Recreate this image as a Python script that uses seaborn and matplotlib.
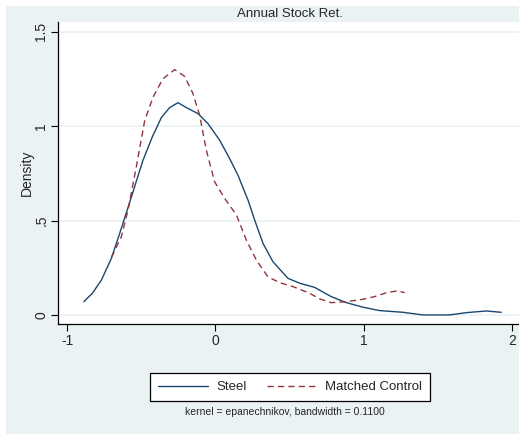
import matplotlib
matplotlib.use("Agg")
import matplotlib.pyplot as plt
import seaborn as sns
import pandas as pd
from matplotlib.patches import Rectangle
from matplotlib.lines import Line2D

# ---- data ----
steel_x = [-0.887, -0.829, -0.768, -0.701, -0.645, -0.566, -0.488, -0.425, -0.364, -0.308,
           -0.252, -0.196, -0.117, -0.050, 0.029, 0.096, 0.152, 0.220, 0.265, 0.321,
           0.388, 0.489, 0.568, 0.669, 0.781, 0.883, 0.995, 1.107, 1.264, 1.399,
           1.579, 1.691, 1.826, 1.927]
steel_y = [0.070, 0.115, 0.185, 0.300, 0.432, 0.625, 0.819, 0.943, 1.045, 1.098,
           1.124, 1.098, 1.066, 1.013, 0.925, 0.828, 0.740, 0.608, 0.502, 0.379,
           0.282, 0.194, 0.168, 0.146, 0.097, 0.065, 0.041, 0.023, 0.014, 0.000,
           0.000, 0.012, 0.021, 0.014]

ctrl_x = [-0.701, -0.634, -0.589, -0.533, -0.476, -0.420, -0.353, -0.274, -0.207, -0.151,
          -0.106, -0.061, -0.005, 0.063, 0.142, 0.209, 0.276, 0.354, 0.433, 0.523,
          0.635, 0.703, 0.781, 0.883, 0.995, 1.073, 1.163, 1.230, 1.276]
ctrl_y = [0.305, 0.414, 0.555, 0.784, 1.031, 1.154, 1.251, 1.299, 1.263, 1.172,
          1.057, 0.872, 0.705, 0.617, 0.529, 0.396, 0.291, 0.202, 0.171, 0.150,
          0.115, 0.085, 0.065, 0.070, 0.083, 0.097, 0.120, 0.127, 0.118]

series_names = ["Steel", "Matched Control"]
x_ticks = [-1, 0, 1, 2]
x_tick_labels = ["-1", "0", "1", "2"]
y_ticks = [0, 0.5, 1, 1.5]
y_tick_labels = ["0", ".5", "1", "1.5"]
title = "Annual Stock Ret."
y_label = "Density"
note = "kernel = epanechnikov, bandwidth = 0.1100"

# ---- styling ----
sns.set_style("white")
plt.rcParams["font.family"] = ["Liberation Sans", "DejaVu Sans"]

NAVY = "#1a476f"
MAROON = "#90353b"
BG = "#eaf2f3"

W, H = 519, 437
fig = plt.figure(figsize=(W / 100, H / 100), dpi=100)
fig.patch.set_facecolor("white")
fig.patches.append(Rectangle((6 / W, 3 / H), 1 - 6 / W, 428 / H,
                             transform=fig.transFigure, facecolor=BG, edgecolor="none",
                             zorder=-10))

ax = fig.add_axes([58 / W, (437 - 324) / H, 1 - 58 / W, (324 - 22) / H])
ax.set_facecolor("white")

df_s = pd.DataFrame({"x": steel_x, "y": steel_y})
df_c = pd.DataFrame({"x": ctrl_x, "y": ctrl_y})
sns.lineplot(data=df_s, x="x", y="y", ax=ax, color=NAVY, lw=1.0, sort=False,
             estimator=None)
sns.lineplot(data=df_c, x="x", y="y", ax=ax, color=MAROON, lw=1.0, sort=False,
             estimator=None, dashes=False)
ax.lines[1].set_dashes((4.5, 3))

ax.set_xlim(-1.061, 2.047)
ax.set_ylim(-0.048, 1.551)
ax.set_xticks(x_ticks)
ax.set_xticklabels(x_tick_labels, fontsize=10)
ax.set_yticks(y_ticks)
ax.set_yticklabels(y_tick_labels, fontsize=10, rotation=90, va="center")
for yv in y_ticks:
    ax.axhline(yv, color=BG, lw=1.2, zorder=0)
ax.tick_params(axis="both", direction="out", length=5, width=0.8, color="black",
               bottom=True, left=True, pad=2)
ax.set_xlabel("")
ax.set_ylabel(y_label, fontsize=10, labelpad=0)
for side in ["top", "right"]:
    ax.spines[side].set_visible(False)
for side in ["left", "bottom"]:
    ax.spines[side].set_color("black")
    ax.spines[side].set_linewidth(0.9)

fig.text(290 / W, 1 - 14 / H, title, ha="center", va="center", fontsize=9.5)

handles = [Line2D([], [], color=NAVY, lw=1.0),
           Line2D([], [], color=MAROON, lw=1.0, dashes=(4.5, 3))]
leg = fig.legend(handles, series_names, loc="center", bbox_to_anchor=(290 / W, 1 - 387 / H),
                 ncol=2, fontsize=9.5, frameon=True, fancybox=False, framealpha=1,
                 edgecolor="black", handlelength=3.8, handletextpad=0.6,
                 columnspacing=1.5, borderpad=0.6, borderaxespad=0)
leg.get_frame().set_linewidth(0.9)

fig.text(285 / W, 1 - 412 / H, note, ha="center", va="center", fontsize=7.5)

fig.savefig("out.png", dpi=100, facecolor=fig.get_facecolor())
